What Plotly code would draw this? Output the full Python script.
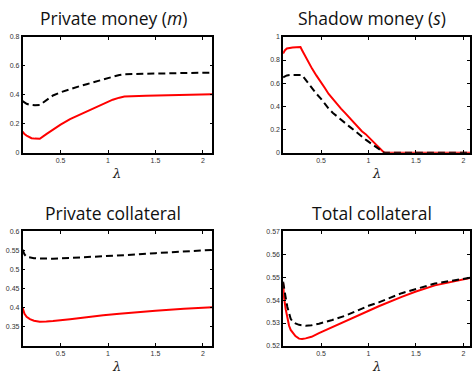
import plotly.graph_objects as go

# ---------------- data ----------------
# Private money (m)
lam_m = [0.1, 0.12, 0.142, 0.17, 0.194, 0.23, 0.281, 0.35, 0.42, 0.5, 0.6, 0.7,
         0.775, 0.85, 0.95, 1.05, 1.12, 1.173, 1.4, 1.7, 2.1]
m_red = [0.145, 0.128, 0.118, 0.106, 0.100, 0.097, 0.096, 0.128, 0.161, 0.194, 0.232,
         0.263, 0.286, 0.309, 0.340, 0.366, 0.380, 0.388, 0.393, 0.398, 0.403]
m_blk = [0.356, 0.345, 0.338, 0.332, 0.329, 0.327, 0.329, 0.362, 0.395, 0.417, 0.440,
         0.459, 0.473, 0.487, 0.507, 0.526, 0.537, 0.542, 0.546, 0.549, 0.553]

# Shadow money (s)
lam_s = [0.1, 0.12, 0.14, 0.17, 0.2, 0.24, 0.283, 0.3, 0.32, 0.35, 0.38, 0.405, 0.45,
         0.5, 0.54, 0.58, 0.625, 0.67, 0.71, 0.755, 0.8, 0.85, 0.9, 0.93, 0.97, 1.0,
         1.05, 1.105, 1.165, 1.4, 1.7, 2.1]
s_red = [0.857, 0.885, 0.900, 0.906, 0.909, 0.911, 0.912, 0.885, 0.853, 0.806, 0.762,
         0.726, 0.667, 0.612, 0.558, 0.507, 0.461, 0.420, 0.380, 0.342, 0.302, 0.260,
         0.218, 0.185, 0.160, 0.135, 0.095, 0.051, 0.0, 0.0, 0.0, 0.0]
s_blk = [0.650, 0.660, 0.667, 0.670, 0.671, 0.672, 0.672, 0.670, 0.648, 0.615, 0.582,
         0.555, 0.510, 0.465, 0.420, 0.380, 0.343, 0.310, 0.283, 0.255, 0.225, 0.190,
         0.158, 0.137, 0.113, 0.095, 0.068, 0.036, 0.0, 0.0, 0.0, 0.0]

# Private collateral
lam_c = [0.1, 0.11, 0.12, 0.142, 0.177, 0.22, 0.28, 0.35, 0.42, 0.6, 0.775, 0.95,
         1.12, 1.3, 1.5, 1.8, 2.1]
c_red = [0.400, 0.390, 0.384, 0.376, 0.370, 0.366, 0.3636, 0.364, 0.365, 0.370, 0.3755,
         0.380, 0.384, 0.388, 0.392, 0.397, 0.401]
c_blk = [0.552, 0.545, 0.539, 0.533, 0.531, 0.5295, 0.5285, 0.528, 0.5282, 0.530, 0.532,
         0.5346, 0.537, 0.539, 0.5425, 0.547, 0.551]

# Total collateral
lam_t = [0.1, 0.11, 0.128, 0.145, 0.163, 0.18, 0.198, 0.23, 0.268, 0.3, 0.338, 0.4,
         0.478, 0.618, 0.758, 1.0, 1.108, 1.35, 1.5, 1.7, 2.1]
t_red = [0.5475, 0.5410, 0.5359, 0.5320, 0.5288, 0.5270, 0.5259, 0.5243, 0.5232, 0.5230,
         0.5233, 0.5240, 0.5256, 0.5282, 0.5310, 0.5355, 0.5373, 0.5414, 0.5437, 0.5464,
         0.5499]
t_blk = [0.5480, 0.5445, 0.5409, 0.5370, 0.5338, 0.5318, 0.5308, 0.5298, 0.5292, 0.5290,
         0.5288, 0.5290, 0.5297, 0.5313, 0.5332, 0.5375, 0.5390, 0.5430, 0.5448, 0.5472,
         0.5499]

titles = ["Private money (<i>m</i>)", "Shadow money (<i>s</i>)",
          "Private collateral", "Total collateral"]
x_ticks = [0.5, 1, 1.5, 2]
x_ticktext = ["0.5", "1", "1.5", "2"]
y_ticks = [
    [0, 0.2, 0.4, 0.6, 0.8],
    [0, 0.2, 0.4, 0.6, 0.8, 1],
    [0.35, 0.4, 0.45, 0.5, 0.55, 0.6],
    [0.52, 0.53, 0.54, 0.55, 0.56, 0.57],
]
y_ranges = [[0, 0.8], [0, 1], [0.3, 0.6], [0.52, 0.57]]

panels = [(lam_m, m_red, m_blk), (lam_s, s_red, s_blk),
          (lam_c, c_red, c_blk), (lam_t, t_red, t_blk)]

# ---------------- layout geometry (pixels) ----------------
W, H = 472, 374
px_per_unit = 95.3
left_x = (22.7, 213.3)
right_x = (284.3, 472.0)
top_y = (33.5, 151.5)
bot_y = (231.5, 348.5)
boxes = [(left_x, top_y), (right_x, top_y), (left_x, bot_y), (right_x, bot_y)]
title_cx = [114, 374, 113, 374]
label_cx = [117, 378, 117, 378]

fig = go.Figure()
tick_font = dict(family="Liberation Sans, Arial, sans-serif", size=7, color="#333333")
title_font = dict(family="Open Sans, sans-serif", size=17.5, color="#111111", weight=400)
lam_font = dict(family="DejaVu Serif, serif", size=13, color="#222222")

for i, ((lam, red, blk), ((x0, x1), (y0, y1))) in enumerate(zip(panels, boxes)):
    n = "" if i == 0 else str(i + 1)
    xa, ya = "x" + n, "y" + n
    fig.add_trace(go.Scatter(x=lam, y=red, mode="lines", xaxis=xa, yaxis=ya,
                             line=dict(color="#ff0000", width=2),
                             showlegend=False, hoverinfo="skip"))
    fig.add_trace(go.Scatter(x=lam, y=blk, mode="lines", xaxis=xa, yaxis=ya,
                             line=dict(color="black", width=2, dash="7px,4px"),
                             showlegend=False, hoverinfo="skip"))
    xr = [0.1, 0.1 + (x1 - x0) / px_per_unit]
    common = dict(showline=True, linecolor="black", linewidth=1.5, ticks="inside",
                  ticklen=3, tickwidth=1, tickcolor="black", showgrid=False,
                  zeroline=False, tickfont=tick_font, mirror="ticks")
    fig.layout["xaxis" + n] = dict(domain=[x0 / W, x1 / W], range=xr, anchor=ya,
                                   tickvals=x_ticks, ticktext=x_ticktext, **common)
    fig.layout["yaxis" + n] = dict(domain=[1 - y1 / H, 1 - y0 / H], range=y_ranges[i],
                                   anchor=xa, tickvals=y_ticks[i],
                                   ticktext=[f"{v:g}" for v in y_ticks[i]], **common)
    fig.add_annotation(text=titles[i], xref="paper", yref="paper",
                       x=title_cx[i] / W, y=1 - (y0 - 19) / H,
                       showarrow=False, xanchor="center", yanchor="middle",
                       font=title_font)
    fig.add_annotation(text="<i>λ</i>", xref="paper", yref="paper",
                       x=label_cx[i] / W, y=1 - (y1 + 21) / H,
                       showarrow=False, xanchor="center", yanchor="middle",
                       font=lam_font)

fig.update_layout(width=W, height=H, margin=dict(l=0, r=0, t=0, b=0),
                  paper_bgcolor="white", plot_bgcolor="white")
fig.write_html("out.html")
